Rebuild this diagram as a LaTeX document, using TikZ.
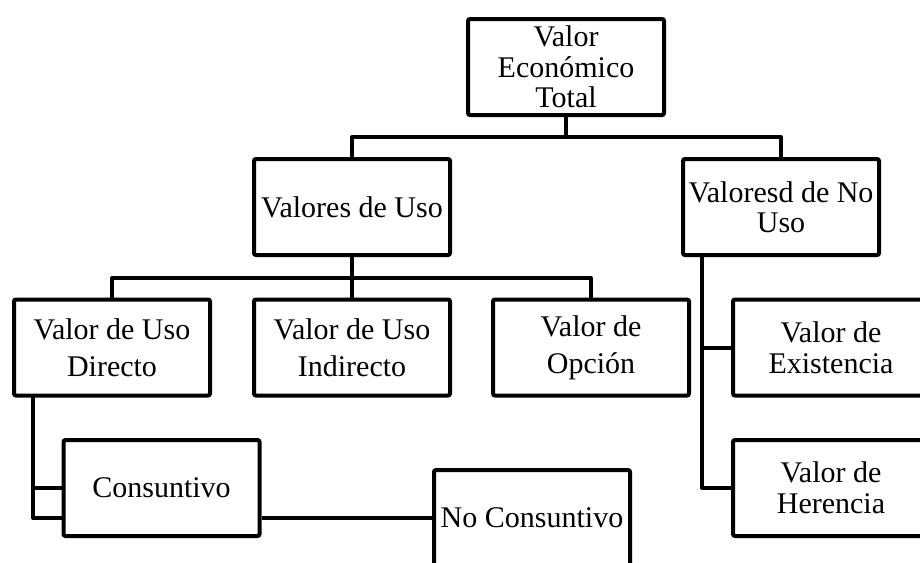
\documentclass[tikz,border=0pt]{standalone}
\usepackage{fontspec}
\setmainfont{Liberation Serif}
\usepackage{tikz}

\begin{document}
\begin{tikzpicture}[x=0.75pt,y=-0.75pt,
  box/.style={draw,rectangle,line width=3pt,rounded corners=1.5pt,fill=white,
    minimum width=147pt,minimum height=72pt,inner sep=1pt,align=center,
    font=\fontsize{22.5}{23}\selectfont},
  link/.style={line width=3pt,line join=round}]

\useasboundingbox (0,0) rectangle (920,562);
\clip (0,0) rectangle (920,562);

\node (vet) at (566,67) [box] {Valor\\Económico\\Total};
\node (vu) at (352,207) [box] {Valores de Uso};
\node (vnu) at (781,207) [box,font=\fontsize{22.5}{22.5}\selectfont] {Valoresd de No\\Uso};

\node (vud) at (112,347.5) [box,font=\fontsize{22.5}{28}\selectfont] {Valor de Uso\\Directo};
\node (vui) at (352,347.5) [box,font=\fontsize{22.5}{28}\selectfont] {Valor de Uso\\Indirecto};
\node (vo) at (591,347.5) [box,font=\fontsize{22.5}{28}\selectfont] {Valor de\\Opción};

\node (vex) at (831,347.5) [box] {Valor de\\Existencia};
\node (vh) at (831,488) [box] {Valor de\\Herencia};

\node (vc) at (161.5,488) [box] {Consuntivo};
\node (vnc) at (532,518) [box] {No Consuntivo};

\coordinate (j1) at (566,137);
\coordinate (j2) at (352,278);
\coordinate (j3) at (702,257);
\coordinate (j4) at (33,397);

\draw [link] (vet) -- (j1) (vu.north) |- (j1) (vnu.north) |- (j1);
\draw [link] (vu) -- (j2) (vud.north) |- (j2) (vui.north) -- (j2) (vo.north) |- (j2);
\draw [link] (vex.west) -| (j3) (vh.west) -| (j3);
\draw [link] (vc.west) -| (j4) (j4) |- (vc.west |- vnc.west);
\draw [link] (vc.east |- vnc.west) -- (vnc.west);

\end{tikzpicture}
\end{document}
